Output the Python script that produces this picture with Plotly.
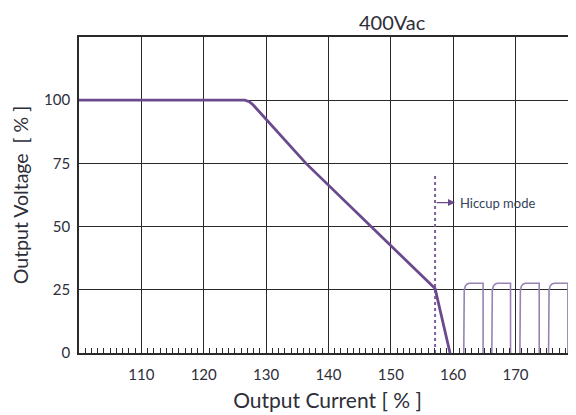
import plotly.graph_objects as go

# Main output characteristic (Output Current % vs Output Voltage %)
curve_x = [100, 126.6, 127.3, 127.9, 136.4, 157.1, 159.5]
curve_y = [100, 100, 99.4, 98.2, 75, 25.5, 0]

# Hiccup pulses
pulse_start = [161.7, 166.2, 170.7, 175.3]
pulse_end = [164.8, 169.2, 173.8, 178.4]
pulse_top = 27.6

# Hiccup marker
hiccup_x = 157.1
hiccup_top = 70.5
hiccup_arrow_y = 59.5

x_ticks = [110, 120, 130, 140, 150, 160, 170]
y_ticks = [0, 25, 50, 75, 100]

title_text = "400Vac"
x_title = "Output Current [ % ]"
y_title = "Output Voltage  [ % ]"
note_text = "Hiccup mode"

main_color = "#6a4a8c"
pulse_color = "#9883b3"
grid_color = "#2a2a2a"
text_color = "#2e2e38"
FONT = "Lato, 'Open Sans', sans-serif"

# build pulse polyline (rounded rise corner)
rise_dx = [0, 0, 0.08, 0.25, 0.55, 0.9]
rise_fy = [0, 0.78, 0.9, 0.96, 0.99, 1.0]
px, py = [], []
for s, e in zip(pulse_start, pulse_end):
    for dx, fy in zip(rise_dx, rise_fy):
        px.append(s + dx)
        py.append(pulse_top * fy)
    px += [e, e, None]
    py += [pulse_top, 0, None]

fig = go.Figure()
fig.add_trace(go.Scatter(x=[hiccup_x, hiccup_x], y=[0, hiccup_top], mode="lines",
                         line=dict(color="#7d5fa0", width=2, dash="dot"),
                         hoverinfo="skip"))
fig.add_trace(go.Scatter(x=px, y=py, mode="lines",
                         line=dict(color=pulse_color, width=1.6),
                         hoverinfo="skip"))
fig.add_trace(go.Scatter(x=curve_x, y=curve_y, mode="lines",
                         line=dict(color=main_color, width=2.8),
                         hoverinfo="skip"))

fig.add_annotation(x=160.3, y=hiccup_arrow_y, ax=hiccup_x, ay=hiccup_arrow_y,
                   xref="x", yref="y", axref="x", ayref="y", text="",
                   showarrow=True, arrowhead=2, arrowsize=1, arrowwidth=1.4,
                   arrowcolor=main_color)
fig.add_annotation(x=160.7, y=hiccup_arrow_y, xref="x", yref="y", text=note_text,
                   showarrow=False, xanchor="left", yanchor="middle",
                   font=dict(family=FONT, size=13, color="#33435a"))
fig.add_annotation(x=0.63, y=1.0918, xref="paper", yref="paper", text=title_text,
                   showarrow=False, xanchor="center", yanchor="top",
                   font=dict(family=FONT, size=20, color=text_color))

# page has an 8px body margin: figure is sized/offset to compensate
fig.update_layout(
    width=568, height=407,
    margin=dict(l=71, r=0, t=29, b=62, autoexpand=False),
    paper_bgcolor="white", plot_bgcolor="white",
    showlegend=False,
    font=dict(family=FONT, color=text_color),
)
fig.update_xaxes(
    range=[100, 179.7], tickvals=x_ticks, ticktext=[str(v) for v in x_ticks],
    showgrid=True, gridcolor=grid_color, gridwidth=1,
    showline=True, linecolor=grid_color, linewidth=1.6, mirror=True,
    ticks="inside", ticklen=5, tickcolor=grid_color, tickwidth=1,
    minor=dict(dtick=1, tick0=100, ticks="inside", ticklen=5, tickcolor=grid_color,
               tickwidth=1, showgrid=False),
    ticklabelstandoff=7,
    tickfont=dict(family=FONT, size=15, color=text_color),
    title=dict(text=x_title, font=dict(family=FONT, size=21, color=text_color), standoff=12),
    zeroline=False, automargin=False,
)
fig.update_yaxes(
    range=[0, 125], tickvals=y_ticks, ticktext=[str(v) for v in y_ticks],
    showgrid=True, gridcolor=grid_color, gridwidth=1,
    showline=True, linecolor=grid_color, linewidth=1.6,
    ticks="", ticklabelstandoff=4, tickfont=dict(family=FONT, size=15, color=text_color),
    title=dict(text=y_title, font=dict(family=FONT, size=19.5, color=text_color), standoff=10),
    zeroline=False, automargin=False,
)

fig.write_html("out.html")
